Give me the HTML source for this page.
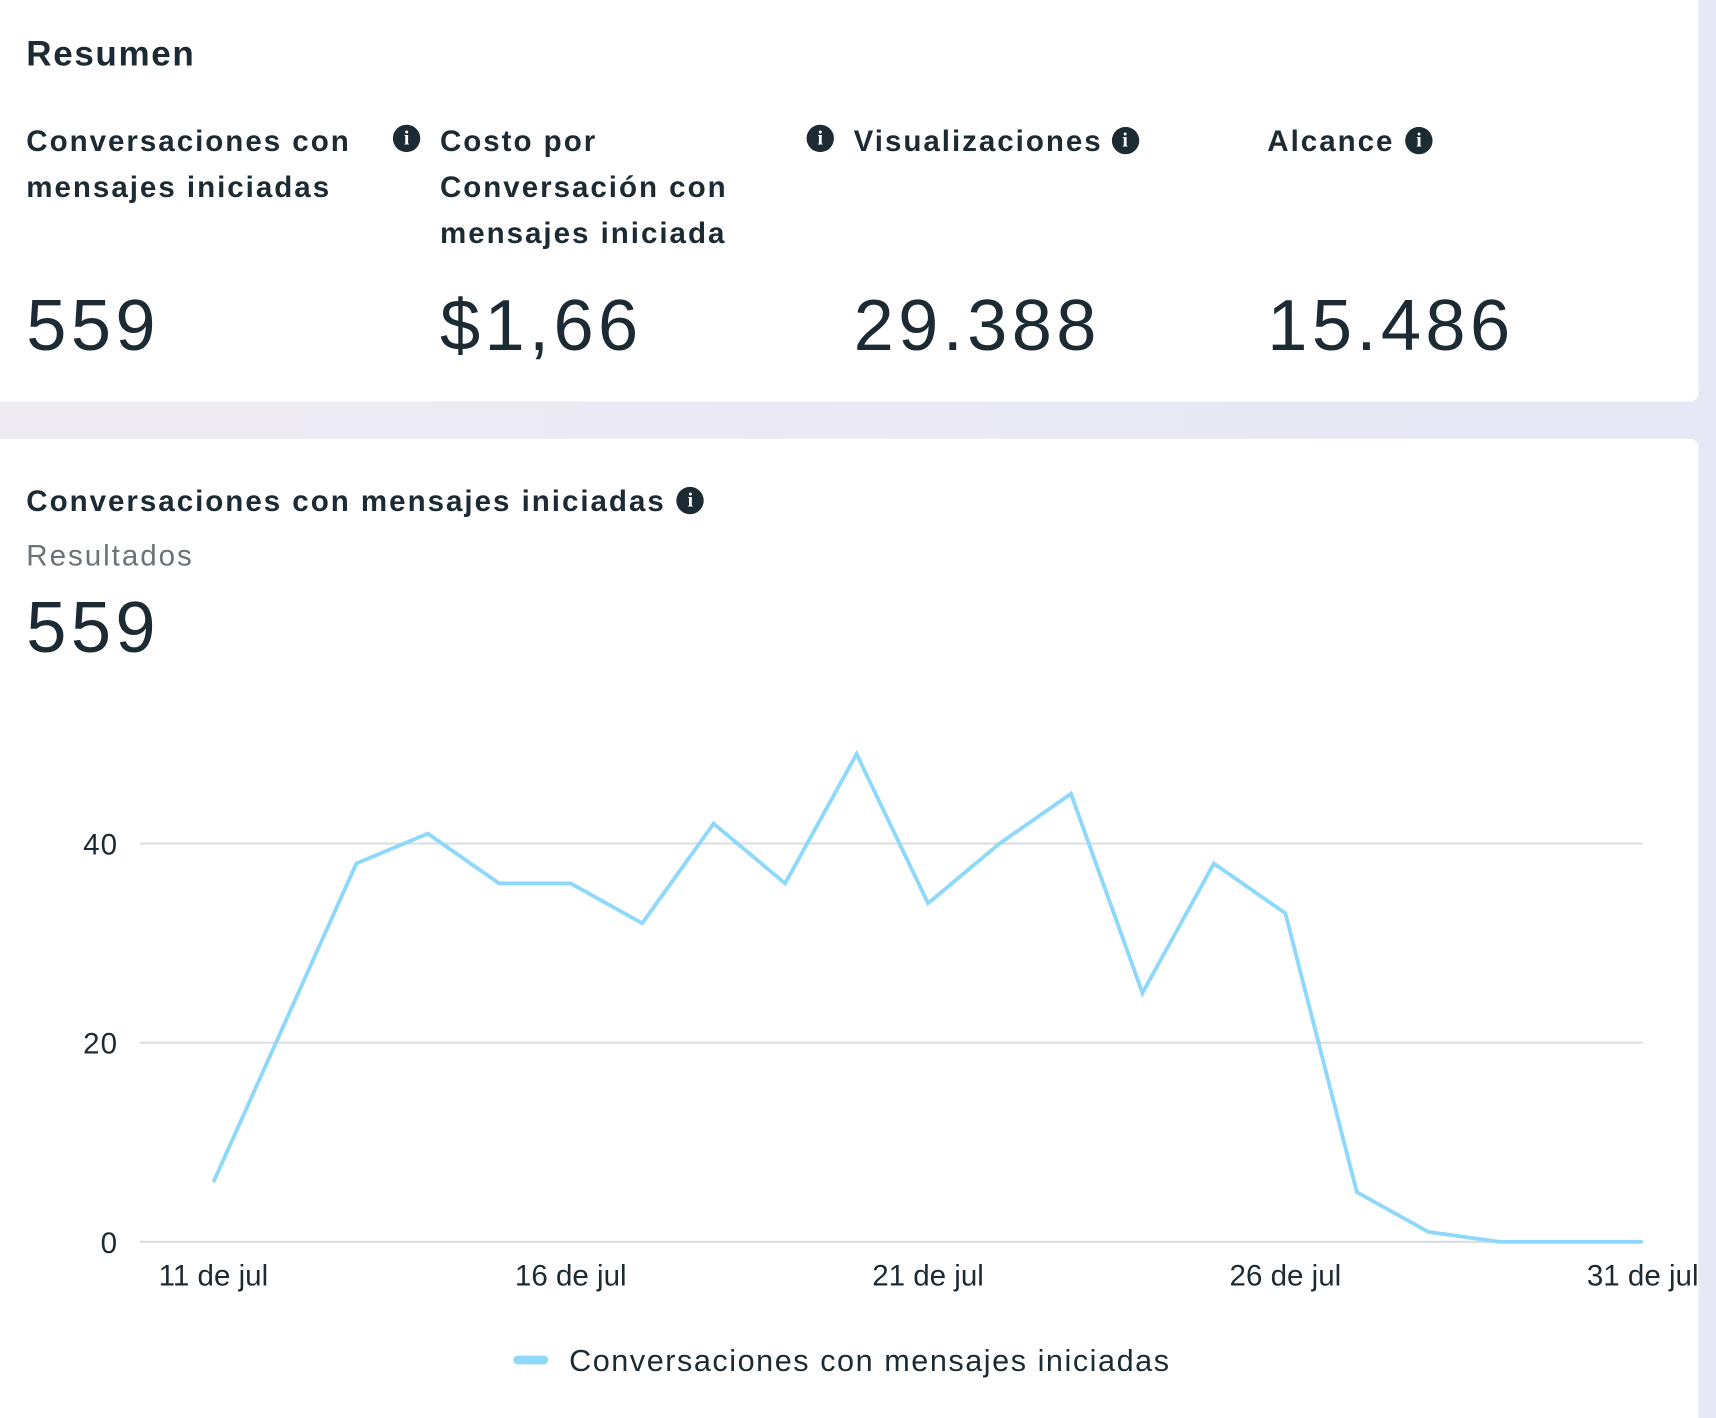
<!DOCTYPE html>
<html><head><meta charset="utf-8">
<style>
html,body{margin:0;padding:0;width:1716px;height:1418px;overflow:hidden;background:#e8e8f3;}
#wrap{position:absolute;left:0;top:0;width:1568px;height:1296px;transform:scale(1.09439,1.09414);transform-origin:0 0;font-family:"Liberation Sans",sans-serif;color:#1c2b33;background:linear-gradient(90deg,#eeeaf1,#e6e8f6);}
.card{position:absolute;left:0;width:1552px;background:#fff;}
.t{position:absolute;white-space:nowrap;}
.lbl{font-weight:bold;font-size:27px;line-height:42px;letter-spacing:1.8px;}
.big{font-size:66px;line-height:70px;letter-spacing:4px;}
.ic{display:inline-block;width:25px;height:25px;border-radius:50%;background:#1c2b33;color:#fff;font-size:18px;line-height:25px;text-align:center;font-weight:bold;font-family:"Liberation Serif",serif;vertical-align:4px;letter-spacing:0;}
</style></head><body>
<div id="wrap">
<div class="card" style="top:0;height:367px;border-radius:0 0 8px 0">
 <div class="t" style="left:24px;top:31px;font-size:32px;font-weight:bold;letter-spacing:1.5px">Resumen</div>
 <div class="t lbl" style="left:24px;top:108px">Conversaciones con<br>mensajes iniciadas</div>
 <div class="t" style="left:359px;top:114px"><span class="ic">i</span></div>
 <div class="t lbl" style="left:402px;top:108px">Costo por<br>Conversación con<br>mensajes iniciada</div>
 <div class="t" style="left:737px;top:114px"><span class="ic">i</span></div>
 <div class="t lbl" style="left:780px;top:108px">Visualizaciones<span class="ic" style="margin-left:8px">i</span></div>
 <div class="t lbl" style="left:1158px;top:108px">Alcance<span class="ic" style="margin-left:10px">i</span></div>
 <div class="t big" style="left:24px;top:262px">559</div>
 <div class="t big" style="left:402px;top:262px">$1,66</div>
 <div class="t big" style="left:780px;top:262px">29.388</div>
 <div class="t big" style="left:1158px;top:262px">15.486</div>
</div>
<div class="card" style="top:401px;height:895px;border-radius:0 8px 0 0">
 <div class="t lbl" style="left:24px;top:36px">Conversaciones con mensajes iniciadas<span class="ic" style="margin-left:10px">i</span></div>
 <div class="t" style="left:24px;top:92px;font-size:27px;color:#6b7378;letter-spacing:1.8px">Resultados</div>
 <div class="t big" style="left:24px;top:137px">559</div>
</div>
<svg id="chart" width="1568" height="1296" style="position:absolute;left:0;top:0"></svg>
</div>
<script>
const days=[11,12,13,14,15,16,17,18,19,20,21,22,23,24,25,26,27,28,29,30,31];
const values=[6,22,38,41,36,36,32,42,36,49,34,40,45,25,38,33,5,1,0,0,0];
const yTicks=[0,20,40];
const xTickDays=[11,16,21,26,31];
const seriesName="Conversaciones con mensajes iniciadas";
const NS="http://www.w3.org/2000/svg";
const svg=document.getElementById('chart');
const x=d=>195+(d-11)*(1501-195)/20;
const y=v=>1135-v*(1135-771)/40;
function mk(t,a,p){const e=document.createElementNS(NS,t);for(const k in a)e.setAttribute(k,a[k]);(p||svg).appendChild(e);return e;}
yTicks.forEach(v=>{
 const g=mk('line',{x1:128,x2:1501,y1:y(v),y2:y(v),stroke:'#dcdfe2','stroke-width':2});
 
 
 const t=mk('text',{x:108,y:y(v)+10,'text-anchor':'end','font-size':27,fill:'#1c2b33','font-family':'Liberation Sans, sans-serif','letter-spacing':1});
 t.textContent=v;
 
 
});
xTickDays.forEach(d=>{
 const t=mk('text',{x:x(d),y:1175,'text-anchor':'middle','font-size':27,fill:'#1c2b33','font-family':'Liberation Sans, sans-serif'});
 t.textContent=d+' de jul';
 
 
});
const pts=days.map((d,i)=>x(d)+','+y(values[i])).join(' ');
const line=mk('polyline',{points:pts,fill:'none',stroke:'#8ed8fb','stroke-width':3.5,'stroke-linejoin':'miter'});


const sw=mk('rect',{x:469,y:1239,width:32,height:8,rx:4,fill:'#8ed8fb'});


const lt=mk('text',{x:520,y:1253,'font-size':28,fill:'#1c2b33','font-family':'Liberation Sans, sans-serif','letter-spacing':1.4});
lt.textContent=seriesName;


</script>
</body></html>
